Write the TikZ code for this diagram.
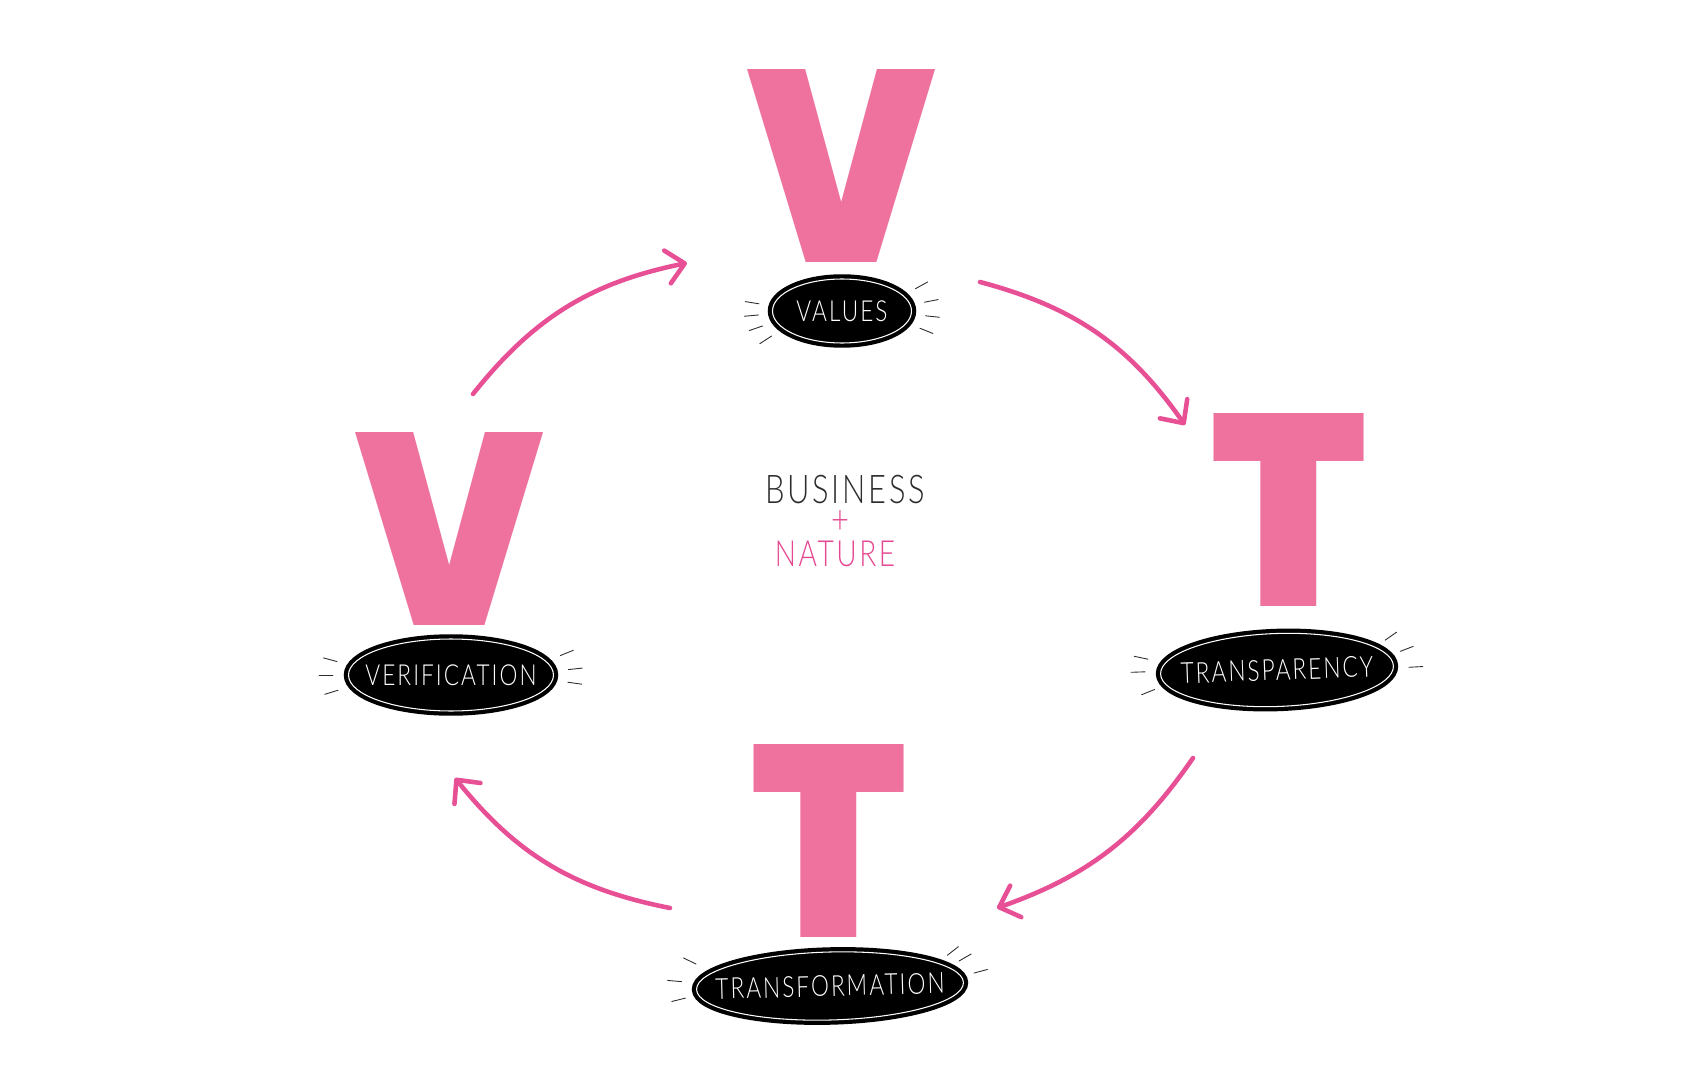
\documentclass[tikz,border=0pt]{standalone}
\usepackage{graphicx}
\usepackage{fontspec}
\setmainfont{Liberation Sans}
\newfontfamily\handfont[FakeStretch=0.78,LetterSpace=7]{Lato Light}
\newfontfamily\blockfont{Poppins Black}
\definecolor{vtpink}{RGB}{239,113,158}
\definecolor{vtarrow}{RGB}{232,80,150}
\definecolor{vtmagenta}{RGB}{228,72,145}
\definecolor{vtink}{RGB}{45,45,45}
\newcommand{\bigV}{\resizebox{3.76cm}{3.86cm}{\blockfont V}}
\newcommand{\bigT}{\resizebox{3.10cm}{3.86cm}{\blockfont T}}
\usetikzlibrary{arrows.meta,shapes.geometric,calc}

\begin{document}
\begin{tikzpicture}[x=0.02cm,y=-0.02cm,
    every node/.style={inner sep=0pt},
    letter/.style={text=vtpink},
    tag/.style={ellipse,fill=black,draw=black,line width=2.4pt,
                double=white,double distance=0.6pt,inner xsep=-0.8cm,
                text=white,font=\handfont\fontsize{16.5}{16.5}\selectfont},
    centre/.style={font=\handfont\fontsize{22.5}{22.5}\selectfont},
    ray/.style={vtink,line width=0.5pt,line cap=round},
    arr/.style={-{Straight Barb[length=10pt,width=19pt,round]},
                line width=2.6pt,vtarrow,line cap=round}]

  \useasboundingbox (0,0) rectangle (1698,1091);

  %% big letters
  \node[letter] (vTop)   at (842,166)  {\bigV};
  \node[letter] (vLeft)  at (450,529)  {\bigV};
  \node[letter] (tRight) at (1289,510) {\bigT};
  \node[letter] (tBot)   at (829,841)  {\bigT};

  %% black tags
  \node[tag,minimum width=2.78cm,minimum height=1.28cm] (vals)   at (842,311)  {VALUES};
  \node[tag,minimum width=4.10cm,minimum height=1.44cm] (verif)  at (451,675)  {VERIFICATION};
  \node[tag,minimum width=4.66cm,minimum height=1.46cm,rotate=2] (transp) at (1277,670) {TRANSPARENCY};
  \node[tag,minimum width=5.34cm,minimum height=1.36cm,rotate=1.5] (transf) at (830,986)  {TRANSFORMATION};

  %% little rays round the tags
  \foreach \p/\rx/\ry/\angs in {vals/68/30/{171,185,199,213,29,11,-6,-22},
                                verif/102/36/{165,180,197,22,6,-8},
                                transp/116/36/{168,182,202,35,21,3},
                                transf/133/34/{154,175,194,38,30,15}}
    \foreach \a in \angs {
      \pgfmathsetmacro\ix{(\rx+16)*cos(\a)} \pgfmathsetmacro\iy{-(\ry+16)*sin(\a)}
      \pgfmathsetmacro\ox{(\rx+30)*cos(\a)} \pgfmathsetmacro\oy{-(\ry+30)*sin(\a)}
      \draw[ray] ($(\p.center)+(\ix,\iy)$) -- ($(\p.center)+(\ox,\oy)$);
    }

  %% centre words
  \node[centre,text=vtink]     (business) at (845,490) {BUSINESS};
  \node[centre,text=vtmagenta] (plus)     at (840,522) {+};
  \node[centre,text=vtmagenta,font=\handfont\fontsize{20.5}{20.5}\selectfont]
        (nature) at (835,554) {NATURE};

  %% cycle arrows
  \coordinate (p1) at (473,394);  \coordinate (q1) at (687,263);
  \coordinate (p2) at (980,282);  \coordinate (q2) at (1185,425);
  \coordinate (p3) at (1193,758); \coordinate (q3) at (997,908);
  \coordinate (p4) at (670,908);  \coordinate (q4) at (455,778);
  \draw[arr] (p1) to[bend left=20] (q1);
  \draw[arr] (p2) to[bend left=20] (q2);
  \draw[arr] (p3) to[bend left=18] (q3);
  \draw[arr] (p4) to[bend left=20] (q4);
\end{tikzpicture}
\end{document}
